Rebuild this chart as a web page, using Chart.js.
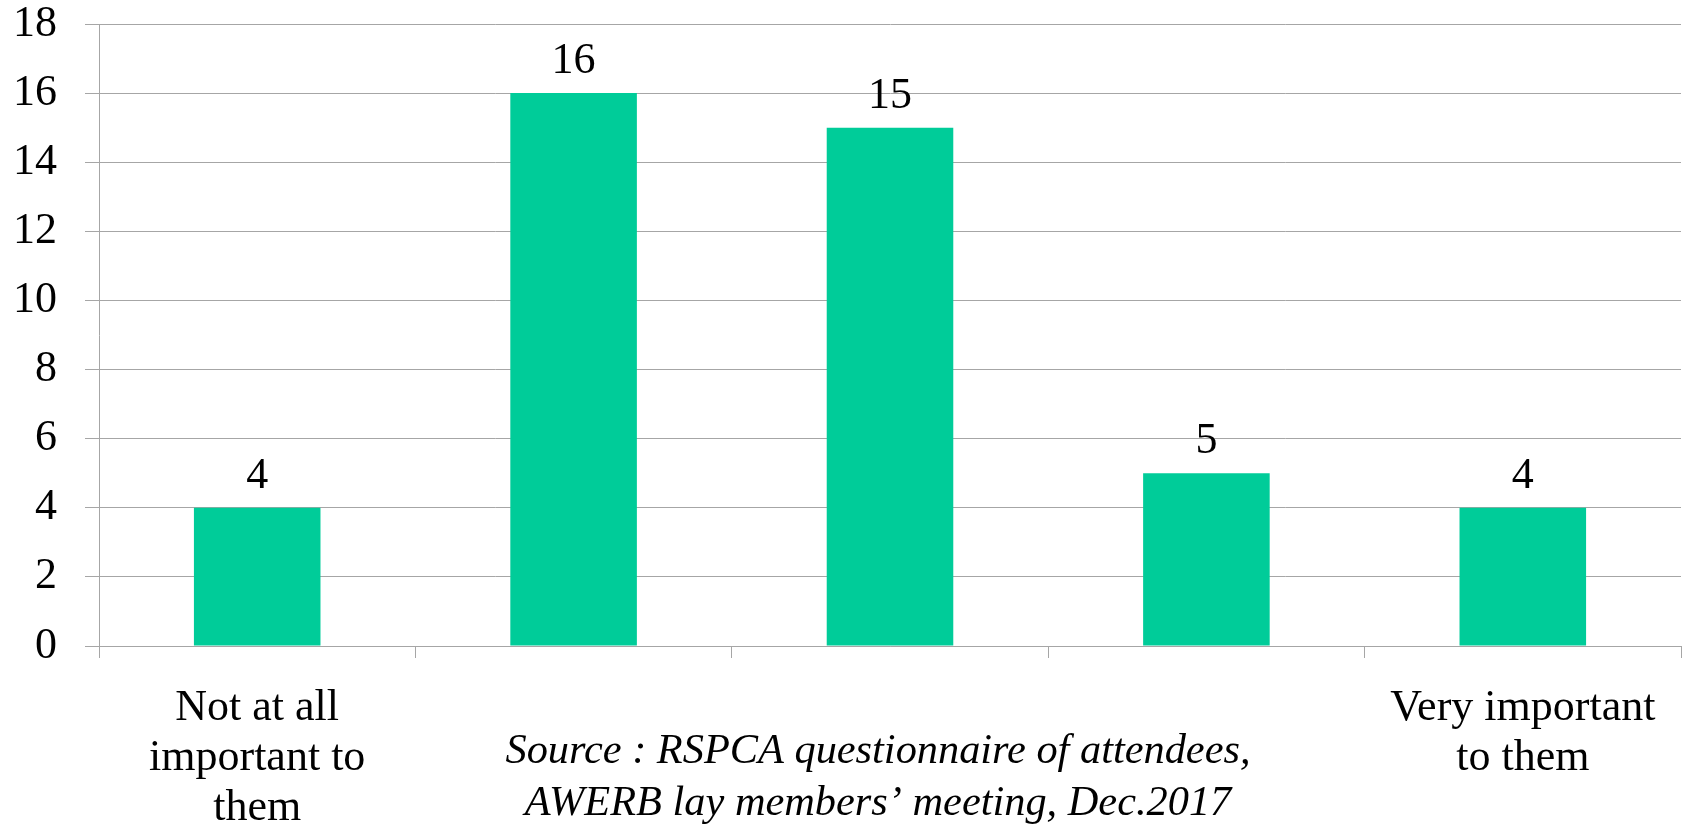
<!DOCTYPE html>
<html>
<head>
<meta charset="utf-8">
<script src="https://cdn.jsdelivr.net/npm/chart.js@4/dist/chart.umd.min.js"></script>
<style>
  html, body { margin: 0; padding: 0; background: #fff; }
  #wrap { width: 1684px; height: 829px; }
</style>
</head>
<body>
<div id="wrap"><canvas id="chart" width="1684" height="829"></canvas></div>
<script>
/* ─── Data ───────────────────────────────────────────────── */
const categories = [
  ['Not at all', 'important to', 'them'],
  '',
  '',
  '',
  ['Very important', 'to them']
];
const counts = [4, 16, 15, 5, 4];
const yTicks = [0, 2, 4, 6, 8, 10, 12, 14, 16, 18];
const sourceLines = [
  'Source : RSPCA questionnaire of attendees,',
  'AWERB lay members\u2019 meeting, Dec.2017'
];

const SERIF = '"Liberation Serif", Tinos, "Times New Roman", Times, "Nimbus Roman", "DejaVu Serif", "Noto Serif", serif';
const GRID = '#a6a6a6';

/* ─── Value labels above bars ────────────────────────────── */
const valueLabels = {
  id: 'valueLabels',
  afterDatasetsDraw(chart) {
    const { ctx } = chart;
    const meta = chart.getDatasetMeta(0);
    ctx.save();
    ctx.font = '44px ' + SERIF;
    ctx.fillStyle = '#000';
    ctx.textAlign = 'center';
    ctx.textBaseline = 'alphabetic';
    meta.data.forEach((bar, i) => {
      ctx.fillText(String(counts[i]), bar.x, bar.y - 20);
    });
    ctx.restore();
  }
};

/* ─── Source note (italic, fitted to the original width) ─── */
const sourceNote = {
  id: 'sourceNote',
  afterDraw(chart) {
    const { ctx } = chart;
    ctx.save();
    ctx.font = 'italic 42px ' + SERIF;
    ctx.fillStyle = '#000';
    ctx.textAlign = 'center';
    ctx.textBaseline = 'alphabetic';
    const sx = 745 / ctx.measureText(sourceLines[0]).width;
    ctx.translate(878, 0);
    ctx.scale(sx, 1);
    ctx.fillText(sourceLines[0], 0, 763);
    ctx.fillText(sourceLines[1], 0, 815);
    ctx.restore();
  }
};

/* ─── Chart ──────────────────────────────────────────────── */
new Chart(document.getElementById('chart'), {
  type: 'bar',
  data: {
    labels: categories,
    datasets: [{
      data: counts,
      backgroundColor: '#00cc99',
      borderWidth: 0,
      barPercentage: 0.4,
      categoryPercentage: 1
    }]
  },
  options: {
    responsive: false,
    animation: false,
    layout: { padding: { top: 24, right: 3, left: 0, bottom: 0 } },
    plugins: {
      legend: { display: false },
      tooltip: { enabled: false }
    },
    scales: {
      x: {
        afterFit(scale) {
          scale.height = 183;
          scale.paddingLeft = 0;
          scale.paddingRight = 0;
        },
        grid: {
          offset: true,
          drawOnChartArea: false,
          color: GRID,
          lineWidth: 1,
          tickLength: 12
        },
        border: { display: true, color: GRID, width: 1 },
        ticks: {
          color: '#000',
          font: { family: SERIF, size: 44, lineHeight: 1.13 },
          padding: 26,
          maxRotation: 0,
          autoSkip: false
        }
      },
      y: {
        min: 0,
        max: 18,
        afterFit(scale) {
          scale.width = 99;
          scale.paddingTop = 0;
          scale.paddingBottom = 0;
        },
        afterBuildTicks(scale) { scale.ticks = yTicks.map(v => ({ value: v })); },
        grid: {
          color: GRID,
          lineWidth: 1,
          tickLength: 14
        },
        border: { display: true, color: GRID, width: 1 },
        ticks: {
          color: '#000',
          font: { family: SERIF, size: 44, lineHeight: 1 },
          padding: 28
        }
      }
    }
  },
  plugins: [valueLabels, sourceNote]
});
</script>
</body>
</html>
